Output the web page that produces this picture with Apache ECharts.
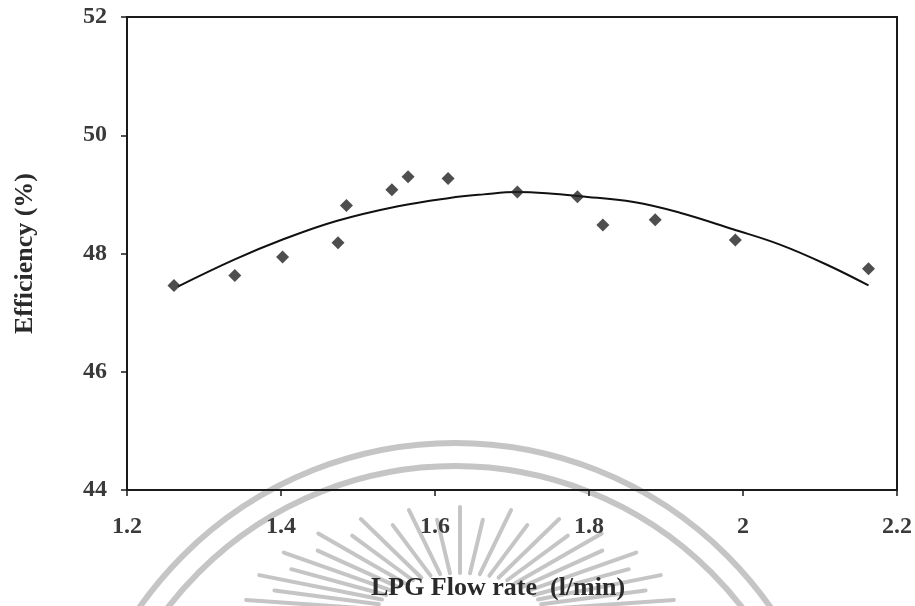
<!DOCTYPE html>
<html>
<head>
<meta charset="utf-8">
<script src="https://cdn.jsdelivr.net/npm/echarts@6/dist/echarts.min.js"></script>
<style>
html,body{margin:0;padding:0;background:#fff;}
#chart{width:915px;height:606px;}
</style>
</head>
<body>
<div id="chart"></div>
<script>
// Measured points
var flowRate = [1.261, 1.340, 1.402, 1.474, 1.485, 1.544, 1.565, 1.617, 1.707, 1.785, 1.818, 1.886, 1.990, 2.163];
var efficiency = [47.46, 47.63, 47.94, 48.18, 48.81, 49.08, 49.30, 49.27, 49.04, 48.96, 48.48, 48.57, 48.23, 47.74];
// Fitted trend curve
var fitX = [1.266, 1.340, 1.403, 1.472, 1.552, 1.619, 1.663, 1.706, 1.745, 1.788, 1.858, 1.918, 1.987, 2.048, 2.109, 2.163];
var fitY = [47.44, 47.90, 48.24, 48.55, 48.80, 48.94, 49.00, 49.04, 49.02, 48.97, 48.87, 48.69, 48.41, 48.15, 47.81, 47.46];
// Axis settings
var xTicks = [1.2, 1.4, 1.6, 1.8, 2, 2.2];
var yTicks = [44, 46, 48, 50, 52];
var xTitle = 'LPG Flow rate  (l/min)';
var yTitle = 'Efficiency (%)';

var pts = flowRate.map(function (x, i) { return [x, efficiency[i]]; });
var fit = fitX.map(function (x, i) { return [x, fitY[i]]; });

// watermark decoration (seal in the background)
var wm = [];
var wmColor = 'rgba(140,140,140,0.5)';
wm.push({type:'arc', shape:{cx:455, cy:828, r:385, startAngle:0, endAngle:Math.PI*2}, style:{stroke:wmColor, lineWidth:6, fill:null}, silent:true, z:-10});
wm.push({type:'arc', shape:{cx:455, cy:828, r:362, startAngle:0, endAngle:Math.PI*2}, style:{stroke:wmColor, lineWidth:6, fill:null}, silent:true, z:-10});
for (var k = 0; k <= 24; k++) {
  var a = (-172 + k * (164 / 24)) * Math.PI / 180;
  var r1 = 42, r2 = (k % 2 === 0) ? 108 : 96;
  var sx = 2.0;
  wm.push({type:'line', shape:{x1:460 + sx*r1*Math.cos(a), y1:615 + r1*Math.sin(a), x2:460 + sx*r2*Math.cos(a), y2:615 + r2*Math.sin(a)}, style:{stroke:wmColor, lineWidth:4, lineCap:'round'}, silent:true, z:-10});
}

var chart = echarts.init(document.getElementById('chart'), null, {renderer:'canvas'});
var fontFam = '"Liberation Serif", "Times New Roman", serif';
chart.setOption({
  animation: false,
  backgroundColor: '#fff',
  graphic: wm,
  grid: {left:127, right:18, top:17, bottom:115, show:true, borderColor:'#1a1a1a', borderWidth:2, backgroundColor:'transparent'},
  xAxis: {
    type:'value', min:xTicks[0], max:xTicks[xTicks.length-1], interval:0.2,
    name: xTitle, nameLocation:'middle', nameGap:85,
    nameTextStyle:{fontFamily:fontFam, fontWeight:'bold', fontSize:26, color:'#2a2a2a', padding:[0,28,0,0]},
    axisLine:{onZero:false, lineStyle:{color:'#1a1a1a', width:2}},
    axisTick:{inside:false, length:6, lineStyle:{color:'#1a1a1a', width:1.5}},
    axisLabel:{margin:25, fontFamily:fontFam, fontWeight:'bold', fontSize:24, color:'#3a3a3a',
      formatter:function(v){ return String(+v.toFixed(1)); }},
    splitLine:{show:false}
  },
  yAxis: {
    type:'value', min:yTicks[0], max:yTicks[yTicks.length-1], interval:2,
    name: yTitle, nameLocation:'middle', nameGap:89, nameRotate:90,
    nameTextStyle:{fontFamily:fontFam, fontWeight:'bold', fontSize:26, color:'#2a2a2a'},
    axisLine:{onZero:false, lineStyle:{color:'#1a1a1a', width:2}},
    axisTick:{inside:false, length:6, lineStyle:{color:'#1a1a1a', width:1.5}},
    axisLabel:{margin:20, fontFamily:fontFam, fontWeight:'bold', fontSize:24, color:'#3a3a3a'},
    splitLine:{show:false}
  },
  series: [
    {type:'line', data:fit, smooth:0.4, showSymbol:false, lineStyle:{color:'#111', width:2}, z:3},
    {type:'scatter', data:pts, symbol:'diamond', symbolSize:13, itemStyle:{color:'#222'}, z:4}
  ]
});
</script>
</body>
</html>
